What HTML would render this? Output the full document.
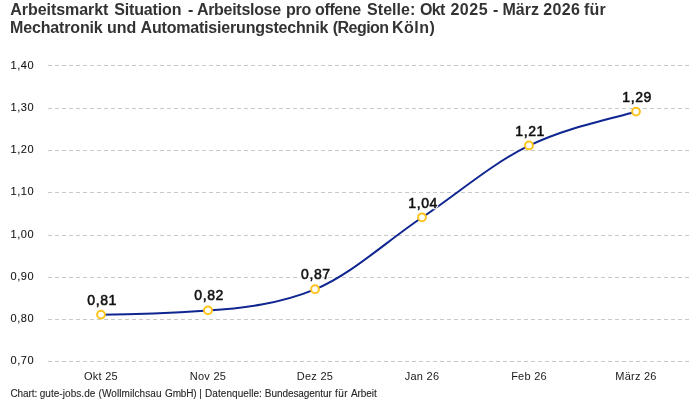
<!DOCTYPE html>
<html><head><meta charset="utf-8">
<style>
html,body{margin:0;padding:0;background:#fff;width:700px;height:400px;overflow:hidden}
svg{display:block;will-change:transform}
text{font-family:"Liberation Sans",sans-serif}
.t{font-size:16px;font-weight:700;fill:#333}
.yl{font-size:11px;fill:#151515;stroke:#151515;stroke-width:0.1px;letter-spacing:0.55px}
.xl{font-size:11px;fill:#1a1a1a;text-anchor:middle;letter-spacing:0.25px}
.dl{font-size:14px;font-weight:400;fill:#111;stroke:#111;stroke-width:0.55px;text-anchor:middle;letter-spacing:0.6px}
.dh{fill:#fff;stroke:#fff;stroke-width:2.4px}
.ft{font-size:10px;fill:#262626;stroke:#262626;stroke-width:0.1px}
</style></head>
<body>
<svg width="700" height="400" viewBox="0 0 700 400">
<text class="t" x="10.3" y="14.6" style="letter-spacing:-0.064px">Arbeitsmarkt</text>
<text class="t" x="114.2" y="14.6" style="letter-spacing:-0.138px">Situation</text>
<text class="t" x="188" y="14.6">-</text>
<text class="t" x="196.9" y="14.6" style="letter-spacing:-0.29px">Arbeitslose</text>
<text class="t" x="285.9" y="14.6" style="letter-spacing:-0.25px">pro</text>
<text class="t" x="315.1" y="14.6" style="letter-spacing:-0.4px">offene</text>
<text class="t" x="367.1" y="14.6" style="letter-spacing:0.033px">Stelle:</text>
<text class="t" x="420" y="14.6" style="letter-spacing:-0.65px">Okt</text>
<text class="t" x="450.4" y="14.6" style="letter-spacing:0.567px">2025</text>
<text class="t" x="492.9" y="14.6">-</text>
<text class="t" x="502.5" y="14.6">März</text>
<text class="t" x="543.2" y="14.6" style="letter-spacing:0.4px">2026</text>
<text class="t" x="584.1" y="14.6" style="letter-spacing:0.1px">für</text>
<text class="t" x="10" y="33.3" style="letter-spacing:-0.15px">Mechatronik</text>
<text class="t" x="106.9" y="33.3">und</text>
<text class="t" x="140.6" y="33.3" style="letter-spacing:-0.195px">Automatisierungstechnik</text>
<text class="t" x="332.7" y="33.3" style="letter-spacing:-0.517px">(Region</text>
<text class="t" x="391.9" y="33.3" style="letter-spacing:0.525px">Köln)</text>
<g stroke="#c8c8c8" stroke-width="1" stroke-dasharray="4 3" shape-rendering="crispEdges">
<line x1="48" x2="690" y1="65.5" y2="65.5"/>
<line x1="48" x2="690" y1="108.5" y2="108.5"/>
<line x1="48" x2="690" y1="150.5" y2="150.5"/>
<line x1="48" x2="690" y1="192.5" y2="192.5"/>
<line x1="48" x2="690" y1="235.5" y2="235.5"/>
<line x1="48" x2="690" y1="277.5" y2="277.5"/>
<line x1="48" x2="690" y1="319.5" y2="319.5"/>
<line x1="48" x2="690" y1="361.5" y2="361.5"/>
</g>
<text class="yl" x="10.5" y="68.6">1,40</text>
<text class="yl" x="10.5" y="110.8">1,30</text>
<text class="yl" x="10.5" y="153.1">1,20</text>
<text class="yl" x="10.5" y="195.4">1,10</text>
<text class="yl" x="10.5" y="237.8">1,00</text>
<text class="yl" x="10.5" y="279.6">0,90</text>
<text class="yl" x="10.5" y="321.8">0,80</text>
<text class="yl" x="10.5" y="363.8">0,70</text>
<text class="xl" x="101" y="379.7">Okt 25</text>
<text class="xl" x="208" y="379.7">Nov 25</text>
<text class="xl" x="315" y="379.7">Dez 25</text>
<text class="xl" x="422" y="379.7">Jan 26</text>
<text class="xl" x="529" y="379.7">Feb 26</text>
<text class="xl" x="636" y="379.7">März 26</text>
<path d="M101.00,314.79 C136.67,314.40 172.33,312.92 208.00,310.56 C243.67,308.20 279.33,303.98 315.00,289.41 C350.67,274.85 386.33,241.47 422.00,217.53 C457.67,193.59 493.33,162.68 529.00,145.64 C564.67,128.60 600.33,121.25 636.00,111.81" fill="none" stroke="#0f2590" stroke-width="2"/>
<g fill="#fff" stroke="#ffc41c" stroke-width="2">
<circle cx="101" cy="314.59" r="3.9"/>
<circle cx="208" cy="310.36" r="3.9"/>
<circle cx="315" cy="289.21" r="3.9"/>
<circle cx="422" cy="217.33" r="3.9"/>
<circle cx="529" cy="145.44" r="3.9"/>
<circle cx="636" cy="111.61" r="3.9"/>
</g>
<g class="halo"><text class="dl dh" x="102.2" y="304.8">0,81</text><text class="dl dh" x="209.1" y="299.7">0,82</text><text class="dl dh" x="315.9" y="278.8">0,87</text><text class="dl dh" x="423.1" y="208">1,04</text><text class="dl dh" x="530.2" y="136.2">1,21</text><text class="dl dh" x="637.2" y="102">1,29</text></g>
<text class="dl" x="102.2" y="304.8">0,81</text>
<text class="dl" x="209.1" y="299.7">0,82</text>
<text class="dl" x="315.9" y="278.8">0,87</text>
<text class="dl" x="423.1" y="208">1,04</text>
<text class="dl" x="530.2" y="136.2">1,21</text>
<text class="dl" x="637.2" y="102">1,29</text>
<text class="ft" x="10.4" y="397.1" style="letter-spacing:-0.06px">Chart:</text>
<text class="ft" x="39.7" y="397.1" style="letter-spacing:0.055px">gute-jobs.de</text>
<text class="ft" x="98.6" y="397.1" style="letter-spacing:0.067px">(Wollmilchsau</text>
<text class="ft" x="165" y="397.1" style="letter-spacing:-0.15px">GmbH)</text>
<text class="ft" x="199.3" y="397.1">|</text>
<text class="ft" x="205" y="397.1" style="letter-spacing:0.064px">Datenquelle:</text>
<text class="ft" x="264.8" y="397.1" style="letter-spacing:-0.067px">Bundesagentur</text>
<text class="ft" x="335.1" y="397.1" style="letter-spacing:0.35px">für</text>
<text class="ft" x="350.9" y="397.1" style="letter-spacing:-0.06px">Arbeit</text>
</svg>
</body></html>
